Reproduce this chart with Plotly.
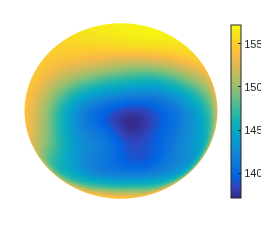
import numpy as np
import plotly.graph_objects as go

# Values on a longitude/latitude grid of the visible face
# (lon: left -> right, lat: bottom -> top, degrees, seen from the viewer)
lon_grid = [-90, -67.5, -45, -22.5, 0, 22.5, 45, 67.5, 90]
lat_grid = [67.5, 45, 22.5, 0, -22.5, -45, -67.5]
vals_lat_p675 = [156.3, 156.3, 156.4, 156.5, 156.6, 156.7, 156.8, 156.9, 157.0]
vals_lat_p450 = [155.0, 155.0, 155.0, 155.0, 155.0, 155.3, 155.5, 155.8, 156.0]
vals_lat_p225 = [154.5, 154.0, 152.0, 149.5, 147.5, 147.0, 149.5, 152.0, 154.5]
vals_lat_000 = [154.5, 153.0, 148.5, 142.0, 138.6, 139.5, 143.0, 148.0, 154.0]
vals_lat_m225 = [153.5, 151.0, 147.0, 142.5, 139.5, 139.5, 142.5, 145.5, 153.5]
vals_lat_m450 = [153.0, 148.0, 145.0, 142.5, 141.5, 141.5, 143.0, 146.0, 153.0]
vals_lat_m675 = [154.0, 153.5, 152.0, 151.0, 150.5, 150.5, 151.0, 153.0, 154.0]
north_pole_val = 157.0
south_pole_val = 154.0
# dark minimum (elongated blob) and its surroundings
extra_lon = [4, 15, -12.8, 8.4, -3.8]
extra_lat = [-7.5, -16.3, -7.5, 6.9, -19.7]
extra_val = [137.3, 138.5, 140.0, 140.5, 140.0]

cmin, cmax = 137.1, 157.2
tick_vals = [140, 145, 150, 155]

# parula (MATLAB) colour map
parula_rgb = [
    (53, 42, 135), (50, 67, 186), (3, 99, 225), (13, 117, 220), (20, 133, 212),
    (9, 152, 209), (6, 167, 198), (21, 177, 180), (56, 185, 158), (101, 190, 134),
    (146, 191, 115), (183, 189, 100), (217, 186, 86), (248, 187, 68), (252, 206, 46),
    (245, 228, 29), (249, 251, 14),
]
parula_pos = [0, 4, 8, 12, 16, 20, 24, 28, 32, 36, 40, 44, 48, 52, 56, 60, 63]
parula = [[p / 63, "rgb(%d,%d,%d)" % c] for p, c in zip(parula_pos, parula_rgb)]

# ---- assemble sample points (view frame: x toward viewer, y right, z up)
rows = [vals_lat_p675, vals_lat_p450, vals_lat_p225, vals_lat_000,
        vals_lat_m225, vals_lat_m450, vals_lat_m675]
lons, lats, vals = [], [], []
for la, row in zip(lat_grid, rows):
    for lo, v in zip(lon_grid, row):
        lons.append(lo); lats.append(la); vals.append(v)
lons += [0, 0] + extra_lon
lats += [90, -90] + extra_lat
vals += [north_pole_val, south_pole_val] + extra_val
lo = np.radians(lons); la = np.radians(lats)
P = np.stack([np.cos(la) * np.cos(lo), np.cos(la) * np.sin(lo), np.sin(la)], axis=1)
V = np.array(vals, dtype=float)


def kernel(d, c=0.4):
    return np.sqrt(d * d + c * c)


D = np.linalg.norm(P[:, None, :] - P[None, :, :], axis=2)
mean_v = V.mean()
w = np.linalg.solve(kernel(D), V - mean_v)

# sphere geometry
th = np.linspace(0, np.pi, 140)
ph = np.linspace(0, 2 * np.pi, 280)
TH, PH = np.meshgrid(th, ph)
X = np.sin(TH) * np.cos(PH)
Y = np.sin(TH) * np.sin(PH)
Z = np.cos(TH)
M = np.stack([X.ravel(), Y.ravel(), Z.ravel()], axis=1)
DM = np.linalg.norm(M[:, None, :] - P[None, :, :], axis=2)
C = (kernel(DM) @ w + mean_v).reshape(X.shape)
C = np.clip(C, cmin, cmax)

fig = go.Figure(go.Surface(
    x=X, y=Y, z=Z, surfacecolor=C, cmin=cmin, cmax=cmax,
    colorscale=parula, showscale=True,
    lighting=dict(ambient=1, diffuse=0, specular=0, roughness=1, fresnel=0),
    contours=dict(x=dict(highlight=False), y=dict(highlight=False), z=dict(highlight=False)),
    hoverinfo="skip",
    colorbar=dict(
        x=223 / 269, xanchor="left", thickness=10,
        len=173 / 240, lenmode="fraction", y=1 - 103.5 / 240, yanchor="middle",
        tickvals=tick_vals, ticks="inside", ticklen=3, tickcolor="#262626",
        outlinecolor="#262626", outlinewidth=1,
        tickfont=dict(family="Liberation Sans, Arial", size=11, color="#262626"),
        xpad=0, ypad=0,
    ),
))

ax = dict(visible=False, showbackground=False, showgrid=False, zeroline=False)
fig.update_layout(
    width=269, height=240,
    margin=dict(l=0, r=0, t=0, b=0, autoexpand=False),
    paper_bgcolor="white",
    scene=dict(
        xaxis=ax, yaxis=ax, zaxis=ax,
        aspectmode="manual", aspectratio=dict(x=1.99, y=1.99, z=1.81),
        camera=dict(eye=dict(x=1.6, y=0, z=0), up=dict(x=0, y=0, z=1),
                    center=dict(x=0, y=0, z=0), projection=dict(type="orthographic")),
        domain=dict(x=[0, 226 / 269], y=[1 - 206 / 240, 1.0]),
    ),
)
fig.write_html("out.html")
